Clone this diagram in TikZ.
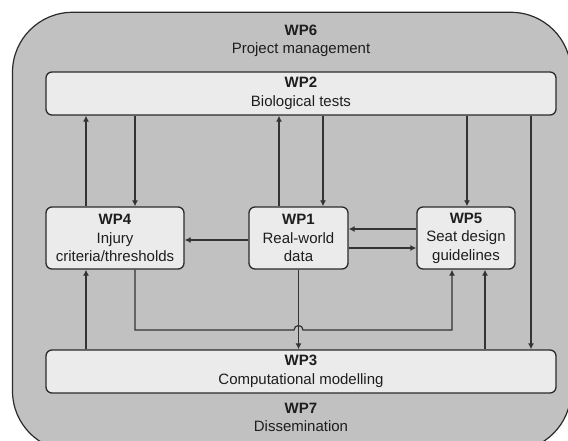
\documentclass[tikz,border=0pt]{standalone}
\usepackage{fontspec}
\setmainfont{Liberation Sans}
\usetikzlibrary{arrows.meta}
\definecolor{outerfill}{HTML}{C1C1C1}
\definecolor{boxfill}{HTML}{EBEBEB}
\definecolor{edgecol}{HTML}{2A2A2A}
\definecolor{linecol}{HTML}{333333}
\definecolor{txt}{HTML}{1E1E1E}
\begin{document}
\begin{tikzpicture}[x=1pt,y=-1pt,
  wpbox/.style={draw=edgecol, line width=1.3pt, fill=boxfill, rounded corners=6pt,
    inner sep=0pt, align=center, text=txt, font=\fontsize{15}{18.5}\selectfont},
  label/.style={inner sep=0pt, align=center, text=txt, font=\fontsize{15}{18.5}\selectfont},
  conn/.style={draw=linecol, line width=1.2pt},
  arr/.style={conn, -{Latex[length=6pt,width=6pt]}}]
\useasboundingbox (0,0) rectangle (568,441);
\clip (0,0) rectangle (568,441);
% outer container
\draw[draw=edgecol, line width=1.2pt, fill=outerfill, rounded corners=60pt] (12.5,12.3) rectangle (571,451);
\node[label] (wp6) at (301,41) {\textbf{WP6}\\Project management};
\node[label] (wp7) at (301,417.5) {\textbf{WP7}\\Dissemination};
% boxes
\node[wpbox, minimum width=510pt, minimum height=43pt] (wp2) at (301,93.5) {\textbf{WP2}\\Biological tests};
\node[wpbox, minimum width=138pt, minimum height=62pt] (wp4) at (115,238) {\textbf{WP4}\\Injury\\criteria/thresholds};
\node[wpbox, minimum width=99pt, minimum height=62pt] (wp1) at (298.5,238) {\textbf{WP1}\\Real-world\\data};
\node[wpbox, minimum width=98pt, minimum height=62pt] (wp5) at (466,238) {\textbf{WP5}\\Seat design\\guidelines};
\node[wpbox, minimum width=510pt, minimum height=43pt] (wp3) at (301,371.5) {\textbf{WP3}\\Computational modelling};
% connector columns
\coordinate (xa) at (86,0);
\coordinate (xb) at (135,0);
\coordinate (xc) at (279,0);
\coordinate (xd) at (323,0);
\coordinate (xe) at (467,0);
\coordinate (xf) at (531,0);
\coordinate (xh) at (452,0);
\coordinate (xi) at (485,0);
\coordinate (hop) at (298.5,330);
% upper connectors
\draw[arr] (wp4.north -| xa) -- (wp2.south -| xa);
\draw[arr] (wp2.south -| xb) -- (wp4.north -| xb);
\draw[arr] (wp1.north -| xc) -- (wp2.south -| xc);
\draw[arr] (wp2.south -| xd) -- (wp1.north -| xd);
\draw[arr] (wp2.south -| xe) -- (wp5.north -| xe);
\draw[arr] (wp2.south -| xf) -- (wp3.north -| xf);
% middle connectors
\draw[arr] ([yshift=-2pt]wp1.west) -- ([yshift=-2pt]wp4.east);
\draw[arr] ([yshift=9pt]wp5.west) -- ([yshift=9pt]wp1.east);
\draw[arr] ([yshift=-10pt]wp1.east) -- ([yshift=-10pt]wp5.west);
% lower connectors
\draw[arr] (wp3.north -| xa) -- (wp4.south -| xa);
\draw[arr] (wp1.south) -- (wp3.north -| wp1.south);
\draw[arr] (wp4.south -| xb) -- (xb |- hop) -- ([xshift=-4.5pt]hop)
  arc[start angle=180, end angle=0, radius=4.5pt] -- (hop -| xh) -- (wp5.south -| xh);
\draw[arr] (wp3.north -| xi) -- (wp5.south -| xi);
\end{tikzpicture}
\end{document}
